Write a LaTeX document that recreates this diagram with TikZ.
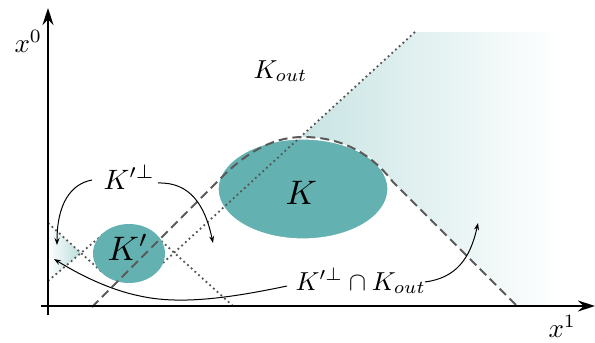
\documentclass[tikz,border=0pt]{standalone}
\usetikzlibrary{arrows.meta}
\definecolor{tealK}{RGB}{99,177,176}
\definecolor{dotgray}{RGB}{85,85,85}
\definecolor{dashgray}{RGB}{90,90,90}
\begin{document}
\begin{tikzpicture}[x=1pt,y=-1pt,
  dotl/.style={dotgray, line width=1.8pt, dash pattern=on 1.8pt off 3.2pt},
  dashl/.style={dashgray, line width=2pt, dash pattern=on 9pt off 5pt},
  lbl/.style={inner sep=0pt, anchor=base west},
  axisline/.style={line width=1.4pt, -{Stealth[length=17pt,width=11pt]}},
  pointer/.style={line width=1pt, -{Stealth[length=7pt,width=5pt]}},
  region/.style={fill=tealK}]
\useasboundingbox (0,0) rectangle (595,343);

% shaded regions
\shade[left color=tealK!35!white, right color=white]
  (300,138) -- (415,32) -- (560,32) -- (560,306) -- (517,306) -- (393,182)
  .. controls (370,152) and (340,137) .. (303,137) -- cycle;
\shade[left color=white, right color=tealK!45!white]
  (48,223) -- (81,253) -- (48,281) -- cycle;

% region K
\fill[region, draw=white, line width=1.2pt] (303,189) ellipse [x radius=85, y radius=50];

% light rays of K'
\coordinate (l1a) at (48,223);
\coordinate (l1b) at (103,273);
\coordinate (l2a) at (48,281);
\coordinate (l2b) at (103,234.3);
\coordinate (l3a) at (233,306);
\coordinate (l3b) at (158,238);
\coordinate (l4a) at (415,32);
\coordinate (l4b) at (152,273);
\draw[dotl] (l1a) -- (l1b);
\draw[dotl] (l2a) -- (l2b);
\draw[dotl] (l3a) -- (l3b);
\draw[dotl] (l4a) -- (l4b);

% region K'
\fill[region] (129,253.5) ellipse [x radius=36, y radius=29.5];

% causal boundary of K
\coordinate (d0) at (92,307);
\coordinate (d1) at (224,175);
\coordinate (d2) at (303,137);
\coordinate (d3) at (393,182);
\coordinate (d4) at (517,306);
\draw[dashl] (d0) -- (d1) .. controls (250,150) and (275,137) .. (d2)
  .. controls (340,137) and (370,152) .. (d3) -- (d4);

% axes
\coordinate (o1) at (48,315);
\coordinate (top) at (48,8);
\coordinate (o2) at (41,306);
\coordinate (right) at (595,306);
\draw[axisline] (o1) -- (top);
\draw[axisline] (o2) -- (right);

% labels
\node[lbl, scale=2.7] (x0) at (14,52) {$x^0$};
\node[lbl, scale=2.7] (x1) at (548,337) {$x^1$};
\node[lbl, scale=2.6] (kout) at (253,78) {$K_{out}$};
\node[lbl, scale=3.4] (klab) at (285,204) {$K$};
\node[lbl, scale=3.4] (kplab) at (107,260) {$K'$};
\node[lbl, scale=2.8] (kperp) at (103,189) {$K'^{\perp}$};
\node[lbl, scale=2.6] (kint) at (295,290) {$K'^{\perp}\cap K_{out}$};

% pointers
\coordinate (a1s) at (92,180);
\coordinate (a1e) at (57,245);
\coordinate (a2s) at (158,183);
\coordinate (a2e) at (213,243);
\coordinate (a3s) at (287,286);
\coordinate (a3m) at (140,296);
\coordinate (a3e) at (54,259);
\coordinate (a4s) at (425,282);
\coordinate (a4e) at (478,223);
\draw[pointer] (a1s) .. controls (70,184) and (57,205) .. (a1e);
\draw[pointer] (a2s) .. controls (190,182) and (205,205) .. (a2e);
\draw[pointer] (a3s) .. controls (230,298) and (180,305) .. (a3m)
  .. controls (110,290) and (80,275) .. (a3e);
\draw[pointer] (a4s) .. controls (455,278) and (470,260) .. (a4e);
\end{tikzpicture}
\end{document}
